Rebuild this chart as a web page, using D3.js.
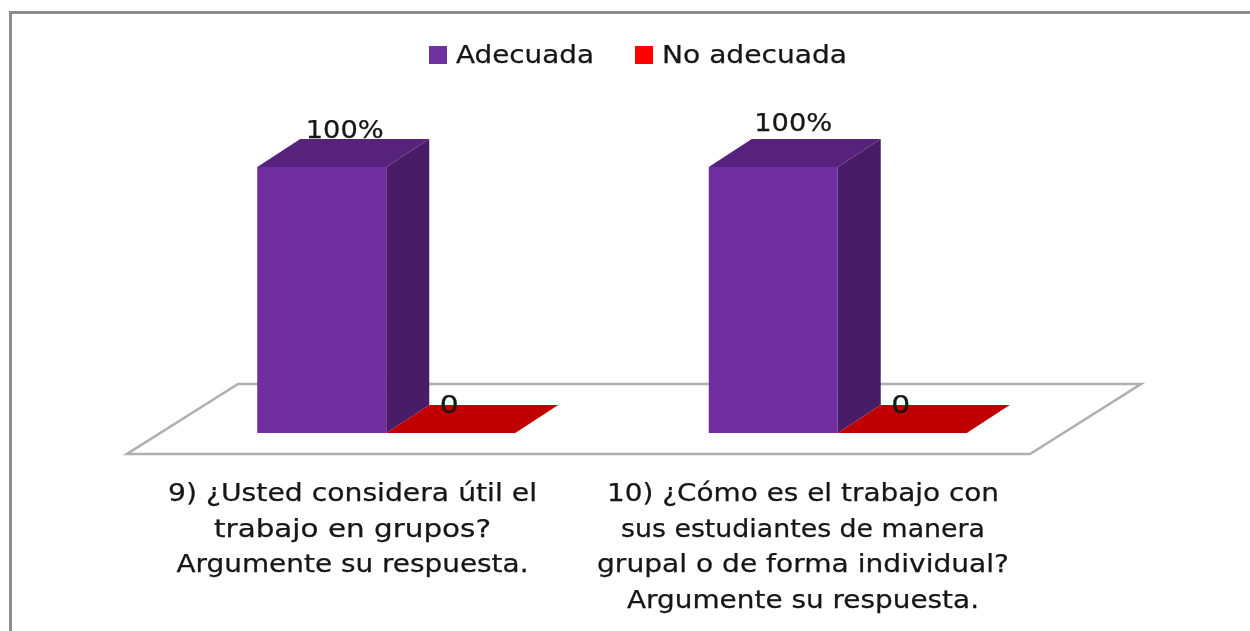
<!DOCTYPE html>
<html><head><meta charset="utf-8">
<script src="https://cdn.jsdelivr.net/npm/d3@7"></script>
<style>html,body{margin:0;padding:0;background:#fff;overflow:hidden}svg{display:block}text{font-family:"DejaVu Sans",sans-serif;fill:#151515;stroke:#151515;stroke-width:.25px}</style>
</head><body><svg id="c" width="1250" height="631"></svg>
<script>
const categories=["9","10"];
const seriesNames=["Adecuada","No adecuada"];
const adecuada=[100,100];
const noAdecuada=[0,0];
const valueLabels=[["100%","100%"],["0","0"]];
const catLines=[["9) ¿Usted considera útil el","trabajo en grupos?","Argumente su respuesta."],
["10) ¿Cómo es el trabajo con","sus estudiantes de manera","grupal o de forma individual?","Argumente su respuesta."]];
const front=["#6f2f9f","#c00000"],top3=["#57247c","#a00000"],side=["#481f68","#900000"],legendColors=["#7030a0","#ff0000"];

const svg=d3.select("#c");
svg.append("defs").append("filter").attr("id","soft").append("feGaussianBlur").attr("stdDeviation",0.6);
const g=svg.append("g").attr("filter","url(#soft)");
const W=1250,H=631,dx=43,dy=-28;
const floorL=127,floorR=1030,floorY=454,floorDx=111,floorDy=-70;
g.append("path").attr("d",`M10.5,${H+5}V12.5H${W+5}`).attr("fill","none").attr("stroke","#8c8c8c").attr("stroke-width",3);
g.append("path").attr("d",`M${floorL},${floorY}H${floorR}L${floorR+floorDx},${floorY+floorDy}H${floorL+floorDx}Z`).attr("fill","#fff").attr("stroke","#b0b0b0").attr("stroke-width",2.6);

const x0=d3.scaleBand().domain(categories).range([160.5,1063.5]).paddingInner(0.4286).paddingOuter(0.2143);
const x1=d3.scaleBand().domain(seriesNames).range([0,x0.bandwidth()]);
const y=d3.scaleLinear().domain([0,100]).range([433,167]);
const series=[adecuada,noAdecuada];

series.forEach((vals,s)=>{
 vals.forEach((v,i)=>{
  const xl=x0(categories[i])+x1(seriesNames[s]),w=x1.bandwidth(),yt=y(v),yb=y(0);
  const b=g.append("g");
  if(v>0){
   b.append("path").attr("d",`M${xl+w},${yb}L${xl+w+dx},${yb+dy}V${yt+dy}L${xl+w},${yt}Z`).attr("fill",side[s]);
   b.append("rect").attr("x",xl).attr("y",yt).attr("width",w).attr("height",yb-yt).attr("fill",front[s]);
  }
  b.append("path").attr("d",`M${xl},${yt}L${xl+dx},${yt+dy}H${xl+w+dx}L${xl+w},${yt}Z`).attr("fill",v>0?top3[s]:front[s]);
 });
});
series.forEach((vals,s)=>vals.forEach((v,i)=>{
  const xl=x0(categories[i])+x1(seriesNames[s]);
  const cx=s===0?xl+x1.bandwidth()/2+(i===0?23:20):xl+63;
  const ty=s===0?(i===0?y(v)-29:y(v)-36):y(v)-20;
  g.append("text").attr("x",cx).attr("y",ty).attr("text-anchor","middle").attr("font-size",24)
   .attr("textLength",s===0?78:19).attr("lengthAdjust","spacingAndGlyphs").text(valueLabels[s][i]);
}));

// legend
const legX=[429,635],legText=[456,662],legW=[138,185];
seriesNames.forEach((n,s)=>{
 g.append("rect").attr("x",legX[s]).attr("y",46).attr("width",18).attr("height",18).attr("fill",legendColors[s]);
 g.append("text").attr("x",legText[s]).attr("y",63).attr("font-size",24).attr("textLength",legW[s]).attr("lengthAdjust","spacingAndGlyphs").text(n);
});
// category labels
const lineW=[[369,277,352],[392,364,412,352]];
catLines.forEach((lines,i)=>{
 const cx=(i===0?352.5:803);
 lines.forEach((t,k)=>{
  g.append("text").attr("x",cx).attr("y",501+k*35.5).attr("text-anchor","middle").attr("font-size",24).attr("textLength",lineW[i][k]).attr("lengthAdjust","spacingAndGlyphs").text(t);
 });
});
</script></body></html>
